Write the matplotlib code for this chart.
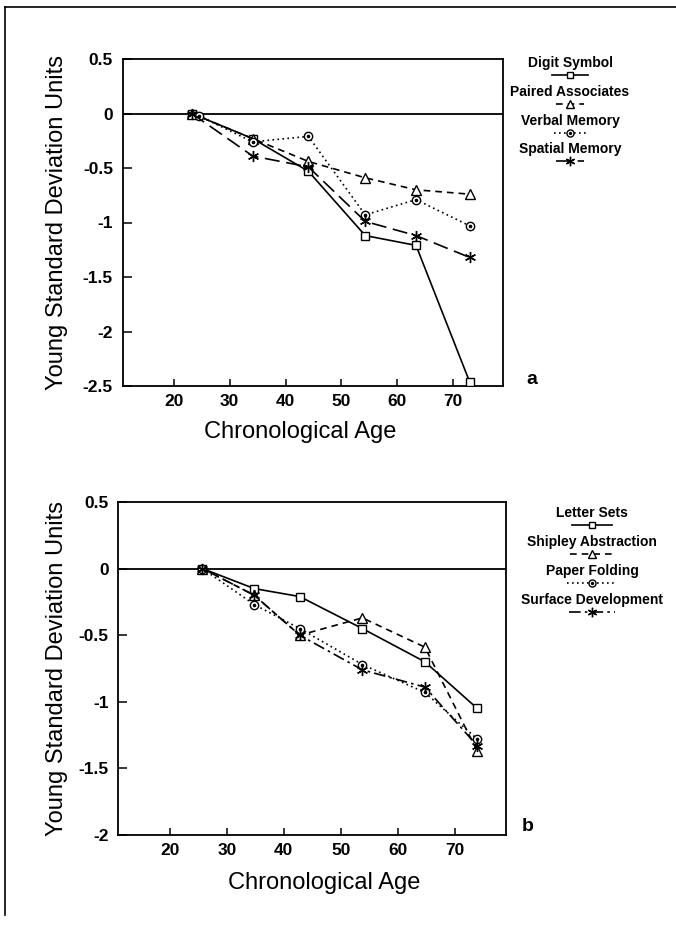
import matplotlib
matplotlib.use("Agg")
import matplotlib.pyplot as plt
from matplotlib.lines import Line2D

plt.rcParams['font.family'] = ['Liberation Sans', 'DejaVu Sans']
plt.rcParams['axes.unicode_minus'] = False

# ---------------- data ----------------
# Panel a
ages_a = [23.2, 34.1, 44.1, 54.3, 63.4, 73.0]
digit_symbol = [0.0, -0.23, -0.53, -1.12, -1.21, -2.46]
paired_assoc = [0.0, -0.23, -0.44, -0.59, -0.70, -0.74]
ages_verbal = [24.4, 34.1, 44.1, 54.3, 63.4, 73.0]
verbal_memory = [-0.02, -0.26, -0.21, -0.93, -0.79, -1.03]
spatial_memory = [0.0, -0.39, -0.49, -0.99, -1.12, -1.32]
labels_a = ["Digit Symbol", "Paired Associates", "Verbal Memory", "Spatial Memory"]

# Panel b
ages_b = [25.7, 34.8, 42.8, 53.8, 64.8, 74.0]
letter_sets = [0.0, -0.15, -0.21, -0.45, -0.70, -1.05]
shipley_abs = [0.0, -0.20, -0.50, -0.37, -0.59, -1.37]
paper_folding = [0.0, -0.27, -0.45, -0.72, -0.93, -1.28]
surface_dev = [0.0, -0.20, -0.50, -0.76, -0.89, -1.33]
labels_b = ["Letter Sets", "Shipley Abstraction", "Paper Folding", "Surface Development"]

xticks = [20, 30, 40, 50, 60, 70]
yticks_a = [0.5, 0, -0.5, -1, -1.5, -2, -2.5]
yticks_b = [0.5, 0, -0.5, -1, -1.5, -2]

# ---------------- styles ----------------
W, H = 676, 925
LW = 1.2
styles = {
    'solid_sq': dict(ls='-', marker='s', ms=5.5),
    'dash_tri': dict(ls=(0, (4, 3)), marker='^', ms=6.5),
    'dot_circ': dict(ls=(0, (1, 2)), marker='o', ms=6),
    'ldash_ast': dict(ls=(0, (9, 4)), marker=(6, 2, 0), ms=8),
    'dashdot_ast': dict(ls=(0, (7, 2.5, 1.5, 2.5)), marker=(6, 2, 0), ms=8),
}

fig = plt.figure(figsize=(W / 100, H / 100), dpi=100)


def px(x, y):
    return x / W, 1 - y / H


def series(ax, x, y, st, dotted_center=False):
    s = styles[st]
    ax.plot(x, y, color='black', lw=LW, linestyle=s['ls'], marker=s['marker'],
            ms=s['ms'], mfc='white', mec='black', mew=1.0, zorder=3)
    if s['marker'] == 'o':
        ax.plot(x, y, ls='none', marker='o', ms=1.6, color='black', zorder=4)


def setup(ax, xlim, ylim, yticks):
    ax.set_xlim(*xlim)
    ax.set_ylim(*ylim)
    ax.set_xticks(xticks)
    ax.set_xticklabels([str(t) for t in xticks])
    ax.set_yticks(yticks)
    ax.set_yticklabels([('%g' % t) for t in yticks])
    ax.axhline(0, color='black', lw=1.3, zorder=2)
    for sp in ['top', 'right', 'left', 'bottom']:
        ax.spines[sp].set_linewidth(1.3)
    ax.tick_params(axis='y', direction='in', length=6.5, width=1.1, pad=7,
                   labelsize=12.5)
    ax.tick_params(axis='x', direction='in', length=5, width=1.1, pad=6,
                   labelsize=12.5)
    for lab in ax.get_xticklabels() + ax.get_yticklabels():
        lab.set_fontweight('bold')


def legend(labels, st_list, cx, y0, dy, hlens):
    for i, (lab, st, hl) in enumerate(zip(labels, st_list, hlens)):
        ty = y0 + i * dy
        fig.text(*px(cx, ty), lab, ha='center', va='center', fontsize=10,
                 fontweight='bold')
        hy = ty + 12
        s = styles[st]
        x0, yy = px(cx - hl / 2, hy)
        x1, _ = px(cx + hl / 2, hy)
        fig.add_artist(Line2D([x0, x1], [yy, yy], color='black', lw=LW,
                              linestyle=s['ls'], transform=fig.transFigure))
        mx, my = px(cx, hy)
        fig.add_artist(Line2D([mx], [my], ls='none', marker=s['marker'],
                              ms=s['ms'] * 0.85, mfc='white', mec='black',
                              mew=1.0, transform=fig.transFigure))
        if s['marker'] == 'o':
            fig.add_artist(Line2D([mx], [my], ls='none', marker='o', ms=1.4,
                                  color='black', transform=fig.transFigure))


# ---------------- panel a ----------------
ax1 = fig.add_axes([122.7 / W, 1 - 386 / H, (503 - 122.7) / W, (386 - 59) / H])
setup(ax1, (10.8, 79.0), (-2.5, 0.5), yticks_a)
series(ax1, ages_a, digit_symbol, 'solid_sq')
series(ax1, ages_a, paired_assoc, 'dash_tri')
series(ax1, ages_verbal, verbal_memory, 'dot_circ')
series(ax1, ages_a, spatial_memory, 'ldash_ast')
ax1.set_xlabel("Chronological Age", fontsize=17)
ax1.xaxis.set_label_coords((300 - 122.7) / (503 - 122.7), -(431.7 - 386) / (386 - 59))
ax1.xaxis.label.set_va('center')
ax1.set_ylabel("Young Standard Deviation Units", fontsize=17, va='center')
ax1.yaxis.set_label_coords((57 - 122.7) / (503 - 122.7), 0.5)
fig.text(*px(531.5, 379), "a", ha='center', va='center', fontsize=14,
         fontweight='bold')
legend(labels_a, ['solid_sq', 'dash_tri', 'dot_circ', 'ldash_ast'],
       570, 63.3, 28.7, [36, 28, 32, 28])

# ---------------- panel b ----------------
ax2 = fig.add_axes([118.3 / W, 1 - 835 / H, (505.7 - 118.3) / W, (835 - 502) / H])
setup(ax2, (10.9, 79.0), (-2.0, 0.5), yticks_b)
series(ax2, ages_b, letter_sets, 'solid_sq')
series(ax2, ages_b, shipley_abs, 'dash_tri')
series(ax2, ages_b, paper_folding, 'dot_circ')
series(ax2, ages_b, surface_dev, 'dashdot_ast')
ax2.set_xlabel("Chronological Age", fontsize=17)
ax2.xaxis.set_label_coords((324 - 118.3) / (505.7 - 118.3), -(883 - 835) / (835 - 502))
ax2.xaxis.label.set_va('center')
ax2.set_ylabel("Young Standard Deviation Units", fontsize=17, va='center')
ax2.yaxis.set_label_coords((57 - 118.3) / (505.7 - 118.3), 0.5)
fig.text(*px(528, 826.7), "b", ha='center', va='center', fontsize=14,
         fontweight='bold')
legend(labels_b, ['solid_sq', 'dash_tri', 'dot_circ', 'dashdot_ast'],
       592, 513, 29, [40, 45, 50, 46])

# ---------------- page border ----------------
bx0, by0 = px(5, 7)
bx1, by1 = px(676, 7)
fig.add_artist(Line2D([bx0, bx1], [by0, by0], color='black', lw=1.2,
                      transform=fig.transFigure))
_, byb = px(5, 915)
fig.add_artist(Line2D([bx0, bx0], [by0, byb], color='black', lw=1.2,
                      transform=fig.transFigure))

fig.savefig("out.png", dpi=100)
